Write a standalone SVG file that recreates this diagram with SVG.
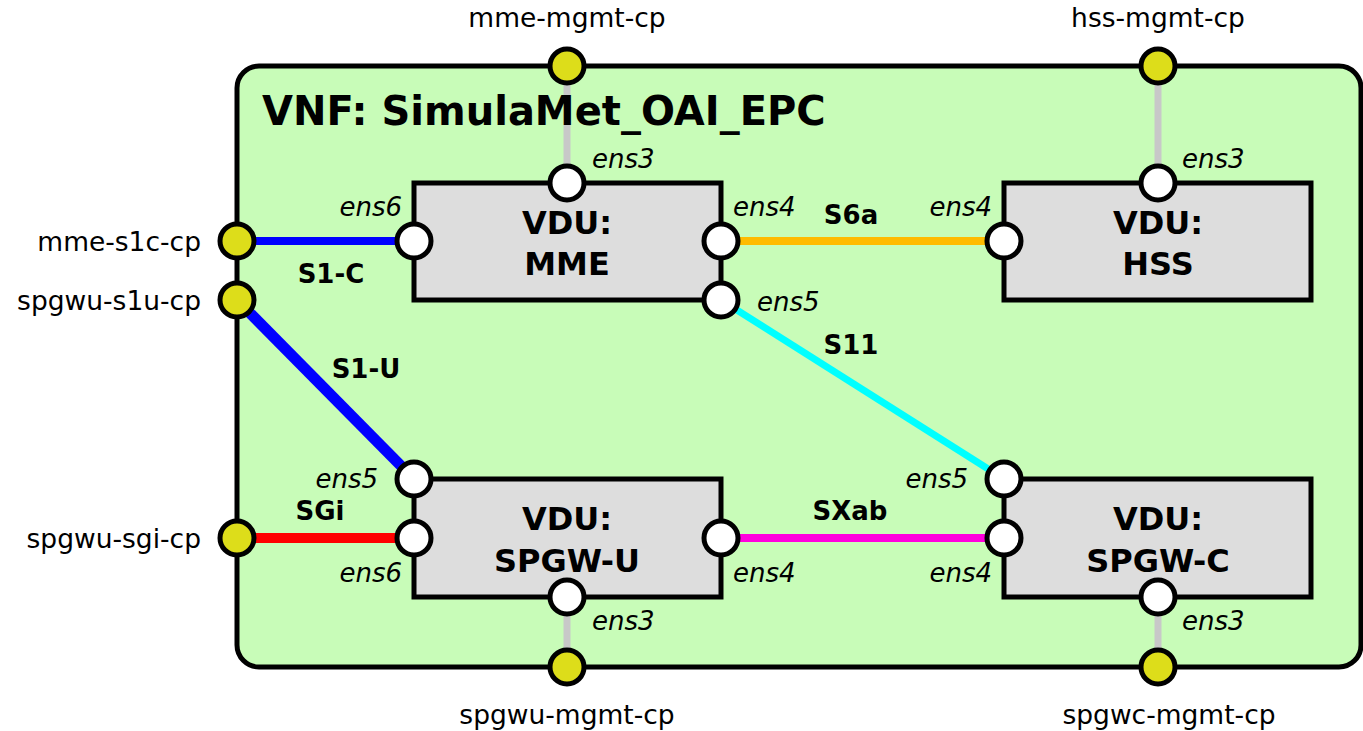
<svg xmlns="http://www.w3.org/2000/svg" width="1363" height="731" viewBox="0 0 1363 731">
<style>
.vnf{fill:#c8fcb8;stroke:#000;stroke-width:5}
.vdu{fill:#dddddd;stroke:#000;stroke-width:5}
.port{fill:#fff;stroke:#000;stroke-width:5}
.cp{fill:#dddd1a;stroke:#000;stroke-width:5}
.lnk{fill:none;stroke-linecap:butt}
.mg{stroke:#c8c8c8;stroke-width:7}
text{font-family:"DejaVu Sans",sans-serif;fill:#000}
.title{font-size:40px;font-weight:bold}
.vl{font-size:32px;font-weight:bold;text-anchor:middle}
.pl{font-size:26px;font-style:italic}
.ll{font-size:26px;font-weight:bold;text-anchor:middle}
.el{font-size:26.5px}
.e{text-anchor:end}
.m{text-anchor:middle}
</style>
<g id="vnf">
<rect class="vnf" x="237" y="66" width="1124" height="601" rx="22"/>
</g>
<g id="connectors">
<line class="lnk mg" x1="567" y1="66" x2="567" y2="183"/>
<line class="lnk mg" x1="1158" y1="66" x2="1158" y2="183"/>
<line class="lnk mg" x1="567" y1="597" x2="567" y2="667"/>
<line class="lnk mg" x1="1158" y1="597" x2="1158" y2="667"/>
<line class="lnk" stroke="#0000ff" stroke-width="8" x1="237" y1="241" x2="414" y2="241"/>
<line class="lnk" stroke="#0000ff" stroke-width="11" x1="237" y1="300" x2="414" y2="479"/>
<line class="lnk" stroke="#ff0000" stroke-width="10" x1="237" y1="538" x2="414" y2="538"/>
<line class="lnk" stroke="#ffbb00" stroke-width="8" x1="721" y1="241" x2="1004" y2="241"/>
<line class="lnk" stroke="#00ffff" stroke-width="7" x1="721" y1="300" x2="1004" y2="479"/>
<line class="lnk" stroke="#ff00dd" stroke-width="8" x1="721" y1="538" x2="1004" y2="538"/>
<text class="ll" x="331" y="283">S1-C</text>
<text class="ll" x="851" y="224">S6a</text>
<text class="ll" x="851" y="354">S11</text>
<text class="ll" x="366" y="378">S1-U</text>
<text class="ll" x="320" y="520">SGi</text>
<text class="ll" x="850" y="520">SXab</text>
</g>
<g id="vnf-title">
<text class="title" x="262" y="125">VNF: SimulaMet_OAI_EPC</text>
</g>
<g id="vdu-mme">
<rect class="vdu" x="414" y="183" width="307" height="117"/>
<text class="vl" x="567" y="234">VDU:</text>
<text class="vl" x="567" y="275">MME</text>
<circle class="port" cx="567" cy="183" r="17"/>
<circle class="port" cx="414" cy="241" r="17"/>
<circle class="port" cx="721" cy="241" r="17"/>
<circle class="port" cx="721" cy="300" r="17"/>
<text class="pl" x="592" y="168">ens3</text>
<text class="pl e" x="402" y="216">ens6</text>
<text class="pl" x="733" y="216">ens4</text>
<text class="pl" x="757" y="311">ens5</text>
</g>
<g id="vdu-hss">
<rect class="vdu" x="1004" y="183" width="307" height="117"/>
<text class="vl" x="1158" y="234">VDU:</text>
<text class="vl" x="1158" y="275">HSS</text>
<circle class="port" cx="1158" cy="183" r="17"/>
<circle class="port" cx="1004" cy="241" r="17"/>
<text class="pl" x="1182" y="168">ens3</text>
<text class="pl e" x="992" y="216">ens4</text>
</g>
<g id="vdu-spgwu">
<rect class="vdu" x="414" y="479" width="307" height="118"/>
<text class="vl" x="567" y="530">VDU:</text>
<text class="vl" x="567" y="572">SPGW-U</text>
<circle class="port" cx="414" cy="479" r="17"/>
<circle class="port" cx="414" cy="538" r="17"/>
<circle class="port" cx="721" cy="538" r="17"/>
<circle class="port" cx="567" cy="597" r="17"/>
<text class="pl e" x="378" y="488">ens5</text>
<text class="pl e" x="402" y="582">ens6</text>
<text class="pl" x="733" y="582">ens4</text>
<text class="pl" x="592" y="630">ens3</text>
</g>
<g id="vdu-spgwc">
<rect class="vdu" x="1004" y="479" width="307" height="118"/>
<text class="vl" x="1158" y="530">VDU:</text>
<text class="vl" x="1158" y="572">SPGW-C</text>
<circle class="port" cx="1004" cy="479" r="17"/>
<circle class="port" cx="1004" cy="538" r="17"/>
<circle class="port" cx="1158" cy="597" r="17"/>
<text class="pl e" x="968" y="488">ens5</text>
<text class="pl e" x="992" y="582">ens4</text>
<text class="pl" x="1182" y="630">ens3</text>
</g>
<g id="cp-mme-mgmt"><circle class="cp" cx="567" cy="66" r="17"/><text class="el m" x="567" y="27">mme-mgmt-cp</text></g>
<g id="cp-hss-mgmt"><circle class="cp" cx="1158" cy="66" r="17"/><text class="el m" x="1158" y="27">hss-mgmt-cp</text></g>
<g id="cp-mme-s1c"><circle class="cp" cx="237" cy="241" r="17"/><text class="el e" x="201" y="251">mme-s1c-cp</text></g>
<g id="cp-spgwu-s1u"><circle class="cp" cx="237" cy="300" r="17"/><text class="el e" x="201" y="310">spgwu-s1u-cp</text></g>
<g id="cp-spgwu-sgi"><circle class="cp" cx="237" cy="538" r="17"/><text class="el e" x="201" y="548">spgwu-sgi-cp</text></g>
<g id="cp-spgwu-mgmt"><circle class="cp" cx="567" cy="667" r="17"/><text class="el m" x="567" y="724">spgwu-mgmt-cp</text></g>
<g id="cp-spgwc-mgmt"><circle class="cp" cx="1158" cy="667" r="17"/><text class="el m" x="1169" y="724">spgwc-mgmt-cp</text></g>
</svg>
